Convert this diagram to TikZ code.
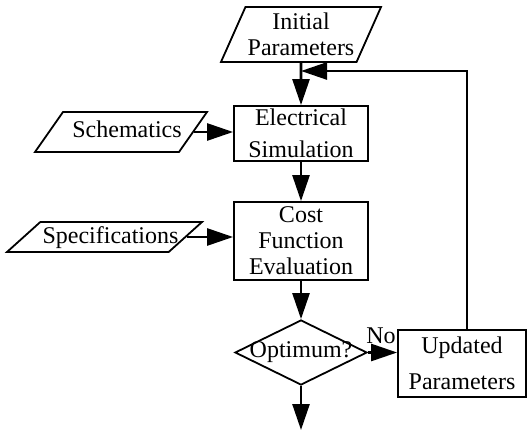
\documentclass[tikz,border=0pt]{standalone}
\usepackage{fontspec}
\setmainfont{Liberation Serif}
\usetikzlibrary{shapes.geometric,arrows.meta}

\begin{document}
\begin{tikzpicture}[x=0.5pt, y=-0.5pt,
    box/.style={rectangle, draw, line width=0.9pt, inner sep=0pt,
                align=center, font=\fontsize{12}{13}\selectfont},
    io/.style={trapezium, trapezium stretches body, draw, line width=0.9pt,
               inner xsep=0pt, align=center, font=\fontsize{12}{13}\selectfont},
    decide/.style={diamond, draw, line width=0.9pt, inner sep=0pt,
                   font=\fontsize{12}{13}\selectfont},
    arr/.style={-{Triangle[length=13pt, width=8.5pt]}, line width=1.3pt}]

    \useasboundingbox (0,0) rectangle (528,432);

    \node[io, trapezium left angle=66, trapezium right angle=114,
          inner ysep=3pt, minimum width=80pt]
          (init) at (301,34.5) {Initial\\Parameters};
    \node[io, trapezium left angle=55, trapezium right angle=125,
          text height=8.5pt, text depth=2.5pt, inner ysep=4.5pt,
          minimum width=86pt]
          (sch)  at (121,132) {\makebox[0pt]{\hspace{6pt}Schematics}};
    \node[io, trapezium left angle=42, trapezium right angle=138,
          text height=8.5pt, text depth=2.5pt, inner ysep=2pt,
          minimum width=97.5pt]
          (spec) at (104.5,237) {\makebox[0pt]{\hspace{6pt}Specifications}};

    \node[box, minimum width=67pt, minimum height=27.5pt]
          (elec) at (301,133.5) {Electrical\\[3pt]Simulation};
    \node[box, minimum width=67pt, minimum height=39pt]
          (cost) at (301,241) {Cost\\Function\\Evaluation};
    \node[decide, minimum width=66pt, minimum height=32.5pt]
          (opt)  at (301,352.5) {\makebox[0pt]{Optimum?}};
    \node[box, minimum width=64pt, minimum height=33.5pt]
          (upd)  at (462,363.5) {Updated\\[5pt]Parameters};

    \coordinate (join) at (301,71);
    \coordinate (out)  at (301,430);

    \draw[arr] (init) -- (elec);
    \draw[arr] (elec) -- (cost);
    \draw[arr] (cost) -- (opt);
    \draw[arr] (opt)  -- (out);
    \draw[arr] (sch.east)  -- (sch.east -| elec.west);
    \draw[arr] (spec.east) -- (spec.east -| cost.west);
    \draw[arr] (opt.east) -- node[pos=0.45, above, inner sep=3.5pt,
        font=\fontsize{12}{13}\selectfont] {No} (opt.east -| upd.west);
    \draw[arr] ([xshift=2.5pt]upd.north) |- (join);

\end{tikzpicture}
\end{document}
